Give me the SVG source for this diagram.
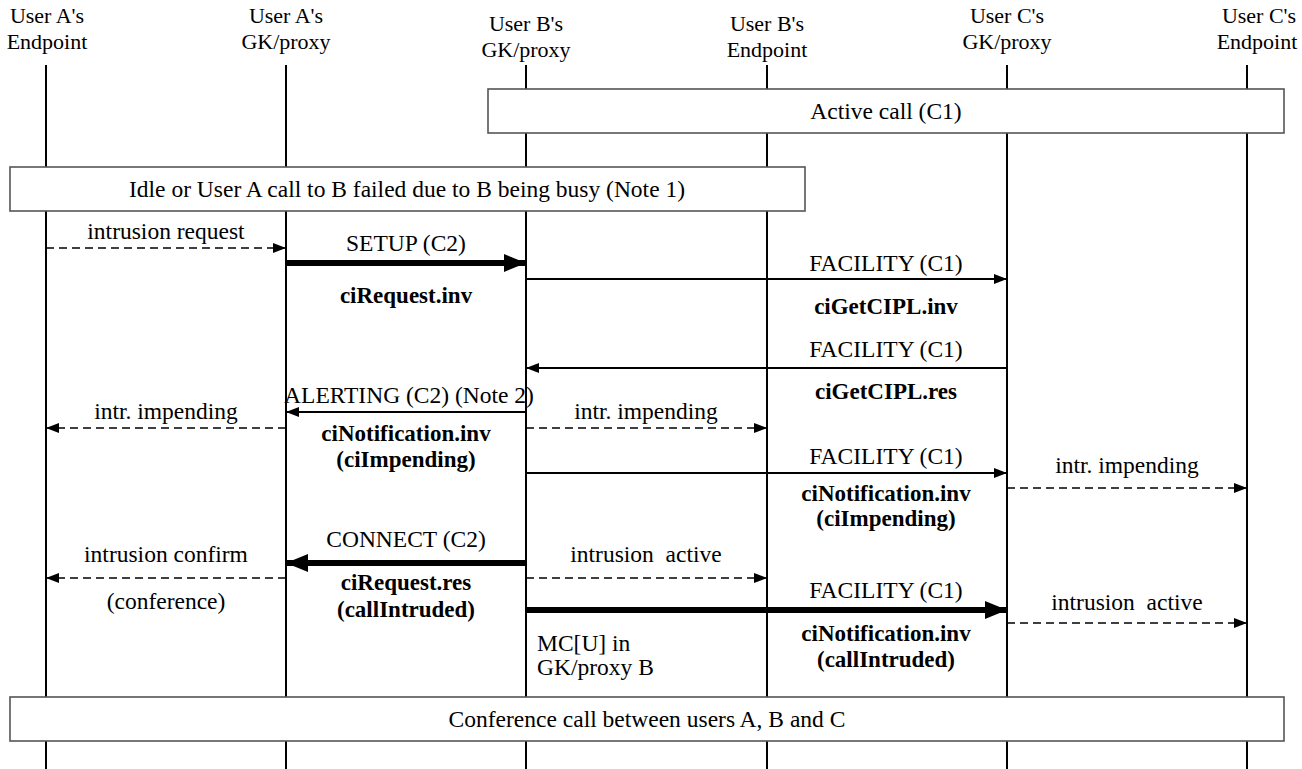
<svg xmlns="http://www.w3.org/2000/svg" width="1302" height="769" viewBox="0 0 1302 769">
<style>
text{font-family:"Liberation Serif","Times New Roman",serif;font-size:23.5px;fill:#000}
.c{text-anchor:middle}
.h{font-size:22px}
.b{font-weight:bold;font-size:23px}
.life{stroke:#000;stroke-width:2}
.box{fill:#fff;stroke:#555;stroke-width:1.6}
.msg{stroke:#000;stroke-width:2;fill:none}
.thick{stroke:#000;stroke-width:6;fill:none}
.dash{stroke:#000;stroke-width:1.6;stroke-dasharray:8 5;fill:none}
</style>
<defs>
<marker id="ah" markerUnits="userSpaceOnUse" markerWidth="14" markerHeight="12" refX="13" refY="6" orient="auto"><path d="M0,1 L13,6 L0,11 Z" fill="#000"/></marker>
<marker id="ahd" markerUnits="userSpaceOnUse" markerWidth="14" markerHeight="12" refX="13" refY="6" orient="auto"><path d="M0,1 L13,6 L0,11 Z" fill="#000"/></marker>
<marker id="aht" markerUnits="userSpaceOnUse" markerWidth="24" markerHeight="20" refX="22" refY="10" orient="auto"><path d="M0,1 L22,10 L0,19 Z" fill="#000"/></marker>
</defs>
<g id="lifelines">
<line class="life" x1="46" y1="65" x2="46" y2="769"/>
<line class="life" x1="286" y1="65" x2="286" y2="769"/>
<line class="life" x1="526" y1="65" x2="526" y2="769"/>
<line class="life" x1="767" y1="65" x2="767" y2="769"/>
<line class="life" x1="1007" y1="65" x2="1007" y2="769"/>
<line class="life" x1="1247" y1="65" x2="1247" y2="769"/>
</g>
<g id="hdrA-ep"><text class="c h" x="47" y="23">User A's</text><text class="c h" x="47" y="49">Endpoint</text></g>
<g id="hdrA-gk"><text class="c h" x="286" y="23">User A's</text><text class="c h" x="286" y="49">GK/proxy</text></g>
<g id="hdrB-gk"><text class="c h" x="526" y="31">User B's</text><text class="c h" x="526" y="57">GK/proxy</text></g>
<g id="hdrB-ep"><text class="c h" x="767" y="31">User B's</text><text class="c h" x="767" y="57">Endpoint</text></g>
<g id="hdrC-gk"><text class="c h" x="1007" y="23">User C's</text><text class="c h" x="1007" y="49">GK/proxy</text></g>
<g id="hdrC-ep"><text class="c h" x="1259" y="23">User C's</text><text class="c h" x="1257" y="49">Endpoint</text></g>
<g id="active-call"><rect class="box" x="488" y="89" width="796" height="44"/><text class="c" x="886" y="119">Active call (C1)</text></g>
<g id="idle"><rect class="box" x="10" y="167" width="795" height="44"/><text class="c" x="407" y="197">Idle or User A call to B failed due to B being busy (Note 1)</text></g>
<g id="conference"><rect class="box" x="10" y="697" width="1274" height="44"/><text class="c" x="647" y="727">Conference call between users A, B and C</text></g>
<g id="connectors">
<line class="dash" x1="46" y1="248" x2="286" y2="248" marker-end="url(#ahd)"/>
<line class="thick" x1="286" y1="263" x2="526" y2="263" marker-end="url(#aht)"/>
<line class="msg" x1="526" y1="279" x2="1007" y2="279" marker-end="url(#ah)"/>
<line class="msg" x1="1007" y1="368" x2="526" y2="368" marker-end="url(#ah)"/>
<line class="msg" x1="526" y1="412" x2="286" y2="412" marker-end="url(#ah)"/>
<line class="dash" x1="286" y1="428" x2="46" y2="428" marker-end="url(#ahd)"/>
<line class="dash" x1="526" y1="428" x2="767" y2="428" marker-end="url(#ahd)"/>
<line class="msg" x1="526" y1="473" x2="1007" y2="473" marker-end="url(#ah)"/>
<line class="dash" x1="1007" y1="488" x2="1247" y2="488" marker-end="url(#ahd)"/>
<line class="thick" x1="526" y1="563" x2="286" y2="563" marker-end="url(#aht)"/>
<line class="dash" x1="286" y1="578" x2="46" y2="578" marker-end="url(#ahd)"/>
<line class="dash" x1="526" y1="578" x2="767" y2="578" marker-end="url(#ahd)"/>
<line class="thick" x1="526" y1="610" x2="1007" y2="610" marker-end="url(#aht)"/>
<line class="dash" x1="1007" y1="623" x2="1247" y2="623" marker-end="url(#ahd)"/>
</g>
<g id="labels">
<text class="c" x="166" y="239">intrusion request</text>
<text class="c" x="406" y="251">SETUP (C2)</text>
<text class="c b" x="406" y="303">ciRequest.inv</text>
<text class="c" x="886" y="271">FACILITY (C1)</text>
<text class="c b" x="886" y="314">ciGetCIPL.inv</text>
<text class="c" x="886" y="357">FACILITY (C1)</text>
<text class="c b" x="886" y="399">ciGetCIPL.res</text>
<text class="c" x="409" y="403">ALERTING (C2) (Note 2)</text>
<text class="c" x="166" y="419">intr. impending</text>
<text class="c" x="646" y="419">intr. impending</text>
<text class="c b" x="406" y="441">ciNotification.inv</text>
<text class="c b" x="406" y="467">(ciImpending)</text>
<text class="c" x="886" y="464">FACILITY (C1)</text>
<text class="c" x="1127" y="473">intr. impending</text>
<text class="c b" x="886" y="501">ciNotification.inv</text>
<text class="c b" x="886" y="526">(ciImpending)</text>
<text class="c" x="406" y="547">CONNECT (C2)</text>
<text class="c" x="166" y="562">intrusion confirm</text>
<text class="c" x="166" y="609">(conference)</text>
<text class="c b" x="406" y="590">ciRequest.res</text>
<text class="c b" x="406" y="617">(callIntruded)</text>
<text class="c" x="646" y="562" xml:space="preserve">intrusion  active</text>
<text class="c" x="886" y="598">FACILITY (C1)</text>
<text class="c" x="1127" y="610" xml:space="preserve">intrusion  active</text>
<text class="c b" x="886" y="641">ciNotification.inv</text>
<text class="c b" x="886" y="667">(callIntruded)</text>
<text x="537" y="651">MC[U] in</text>
<text x="537" y="675">GK/proxy B</text>
</g>
</svg>
